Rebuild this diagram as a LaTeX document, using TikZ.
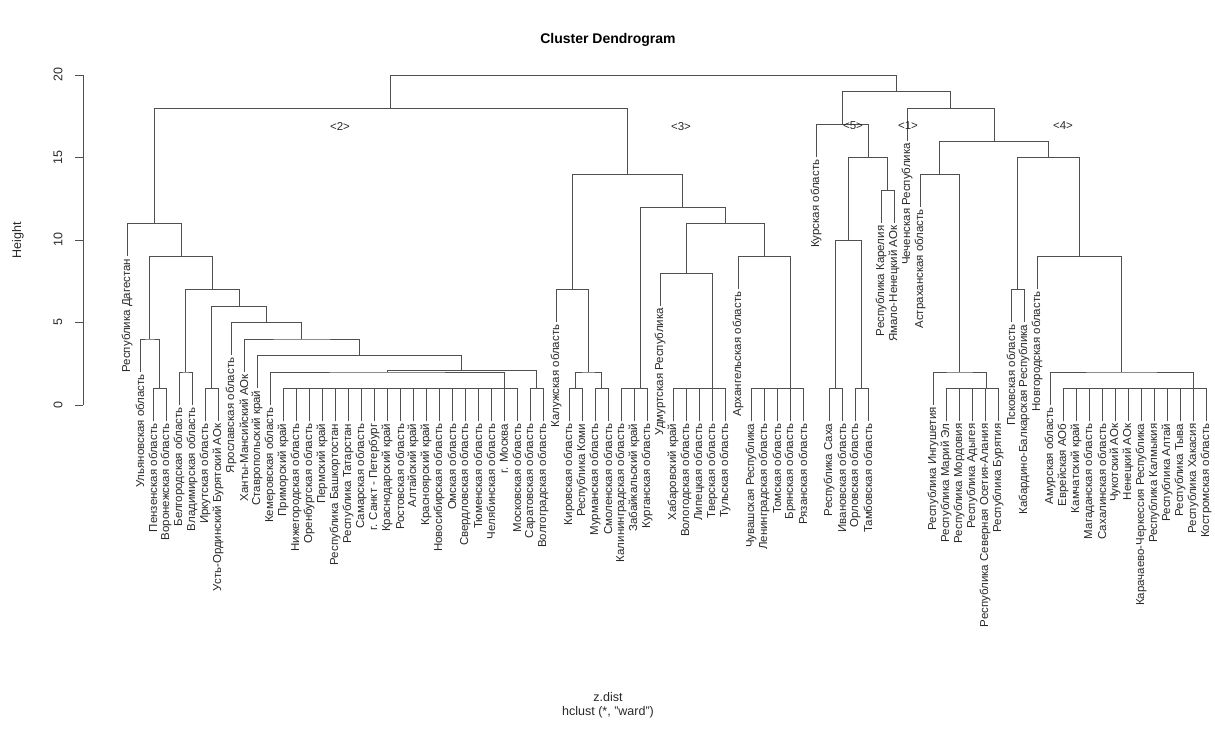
\documentclass[tikz,border=0pt]{standalone}
\usepackage{fontspec}
\setmainfont{Liberation Sans}
\usetikzlibrary{calc}
\definecolor{TreeGray}{RGB}{80,80,80}
\definecolor{InkGray}{RGB}{40,40,40}

\newcommand{\merge}[4]{%
  \path let \p1=(#2), \p2=(#3) in coordinate (#1) at ({(\x1+\x2)/2},{#4*16.5pt});
  \draw[branch] (#2) |- (#1) -| (#3);
}
\newcommand{\leafbar}[4]{%
  \coordinate (#1) at (#4,1);
  \draw[branch] (l#2) |- (#1) -| (l#3);
  \foreach \k in {#2,...,#3} \draw[branch] (l\k) -- (l\k |- #1);
}

\begin{document}
\begin{tikzpicture}[
        x=1pt, y=16.5pt,
        branch/.style={draw=TreeGray, line width=0.8pt},
        leaflabel/.style={rotate=90, anchor=east, inner sep=2pt, text=InkGray, font=\fontsize{11.5}{12}\selectfont},
        grouplabel/.style={text=InkGray, font=\fontsize{11.5}{12}\selectfont},
        ticklabel/.style={rotate=90, text=InkGray, font=\fontsize{12.5}{13}\selectfont},
        caption/.style={text=InkGray, font=\fontsize{12.5}{13}\selectfont}
    ]
        \useasboundingbox (0,-21.091) rectangle (1215,24.545);

        \node (title) at (608,22.12) {\fontsize{14}{16}\selectfont\bfseries Cluster Dendrogram};

        \coordinate (ax0) at (83,0);
        \coordinate (ax20) at (83,20);
        \draw[branch] (ax0) -- (ax20);
        \foreach \t in {0,5,...,20} {
            \coordinate (tk\t) at (83,\t);
            \draw[branch] (tk\t) -- ++(-8pt,0);
            \node[ticklabel] (tick\t) at (58,\t) {\t};
        }
        \node[ticklabel] (ylab) at (18,10) {Height};

        \foreach \i/\h/\name in {
            1/9/Республика Дагестан, 2/2/Ульяновская область, 3/-1/Пензенская область,
            4/-1/Воронежская область, 5/0/Белгородская область, 6/0/Владимирская область,
            7/-1/Иркутская область, 8/-1/Усть-Ординский Бурятский АОк, 9/3/Ярославская область,
            10/2/Ханты-Мансийский АОк, 11/1/Ставропольский край, 12/0/Кемеровская область,
            13/-1/Приморский край, 14/-1/Нижегородская область, 15/-1/Оренбургская область,
            16/-1/Пермский край, 17/-1/Республика Башкортостан, 18/-1/Республика Татарстан,
            19/-1/Самарская область, 20/-1/г. Санкт - Петербург, 21/-1/Краснодарский край,
            22/-1/Ростовская область, 23/-1/Алтайский край, 24/-1/Красноярский край,
            25/-1/Новосибирская область, 26/-1/Омская область, 27/-1/Свердловская область,
            28/-1/Тюменская область, 29/-1/Челябинская область, 30/-1/г. Москва,
            31/-1/Московская область, 32/-1/Саратовская область, 33/-1/Волгоградская область,
            34/5/Калужская область, 35/-1/Кировская область, 36/-1/Республика Коми,
            37/-1/Мурманская область, 38/-1/Смоленская область, 39/-1/Калининградская область,
            40/-1/Забайкальский край, 41/-1/Курганская область, 42/6/Удмуртская Республика,
            43/-1/Хабаровский край, 44/-1/Вологодская область, 45/-1/Липецкая область,
            46/-1/Тверская область, 47/-1/Тульская область, 48/7/Архангельская область,
            49/-1/Чувашская Республика, 50/-1/Ленинградская область, 51/-1/Томская область,
            52/-1/Брянская область, 53/-1/Рязанская область, 54/15/Курская область,
            55/-1/Республика Саха, 56/-1/Ивановская область, 57/-1/Орловская область,
            58/-1/Тамбовская область, 59/11/Республика Карелия, 60/11/Ямало-Ненецкий АОк,
            61/16/Чеченская Республика, 62/12/Астраханская область, 63/0/Республика Ингушетия,
            64/-1/Республика Марий Эл, 65/-1/Республика Мордовия, 66/-1/Республика Адыгея,
            67/-1/Республика Северная Осетия-Алания, 68/-1/Республика Бурятия, 69/5/Псковская область,
            70/5/Кабардино-Балкарская Республика, 71/7/Новгородская область, 72/0/Амурская область,
            73/-1/Еврейская АОб, 74/-1/Камчатский край, 75/-1/Магаданская область,
            76/-1/Сахалинская область, 77/-1/Чукотский АОк, 78/-1/Ненецкий АОк,
            79/-1/Карачаево-Черкессия Республика, 80/-1/Республика Калмыкия, 81/-1/Республика Алтай,
            82/-1/Республика Тыва, 83/-1/Республика Хакасия, 84/-1/Костромская область} {
            \pgfmathsetmacro{\xx}{127+13*(\i-1)}
            \coordinate (l\i) at (\xx,\h);
            \node[leaflabel] (t\i) at (l\i) {\name};
        }

        \merge{p1}{l3}{l4}{1}
        \merge{n0}{l2}{p1}{4}
        \merge{p2}{l5}{l6}{2}
        \merge{p3}{l7}{l8}{1}
        \leafbar{b1}{13}{31}{504}
        \merge{w}{l12}{b1}{2}
        \merge{p4}{l32}{l33}{1}
        \merge{n1}{w}{p4}{2.1}
        \merge{n2}{l11}{n1}{3}
        \merge{n3}{l10}{n2}{4}
        \merge{n4}{l9}{n3}{5}
        \merge{n5}{p3}{n4}{6}
        \merge{n6}{p2}{n5}{7}
        \merge{n7}{n0}{n6}{9}
        \merge{n8}{l1}{n7}{11}

        \merge{p5}{l35}{l36}{1}
        \merge{p6}{l37}{l38}{1}
        \merge{n9}{p5}{p6}{2}
        \merge{n10}{l34}{n9}{7}
        \leafbar{b2}{39}{41}{640.5}
        \leafbar{b3}{43}{47}{712}
        \merge{n11}{l42}{b3}{8}
        \leafbar{b4}{49}{53}{790}
        \merge{n12}{l48}{b4}{9}
        \merge{n13}{n11}{n12}{11}
        \merge{n14}{b2}{n13}{12}
        \merge{n15}{n10}{n14}{14}
        \merge{n16}{n8}{n15}{18}

        \merge{p7}{l55}{l56}{1}
        \merge{p8}{l57}{l58}{1}
        \merge{n17}{p7}{p8}{10}
        \merge{n18}{l59}{l60}{13}
        \merge{n19}{n17}{n18}{15}
        \merge{n20}{l54}{n19}{17}
        \leafbar{b5}{64}{68}{986}
        \merge{n21}{l63}{b5}{2}
        \merge{n22}{l62}{n21}{14}
        \merge{n23}{l69}{l70}{7}
        \leafbar{b6}{73}{84}{1193}
        \merge{n24}{l72}{b6}{2}
        \merge{n25}{l71}{n24}{9}
        \merge{n26}{n23}{n25}{15}
        \merge{n27}{n22}{n26}{16}
        \merge{n28}{l61}{n27}{18}
        \merge{n29}{n20}{n28}{19}
        \merge{root}{n16}{n29}{20}

        \node[grouplabel] (g2) at (340,16.85) {<2>};
        \node[grouplabel] (g3) at (681,16.85) {<3>};
        \node[grouplabel] (g5) at (853,16.95) {<5>};
        \node[grouplabel] (g1) at (908,16.95) {<1>};
        \node[grouplabel] (g4) at (1063,16.95) {<4>};

        \node[caption] (xlab) at (608,-17.7) {z.dist};
        \node[caption] (method) at (608,-18.6) {hclust (*, "ward")};
    \end{tikzpicture}
\end{document}
